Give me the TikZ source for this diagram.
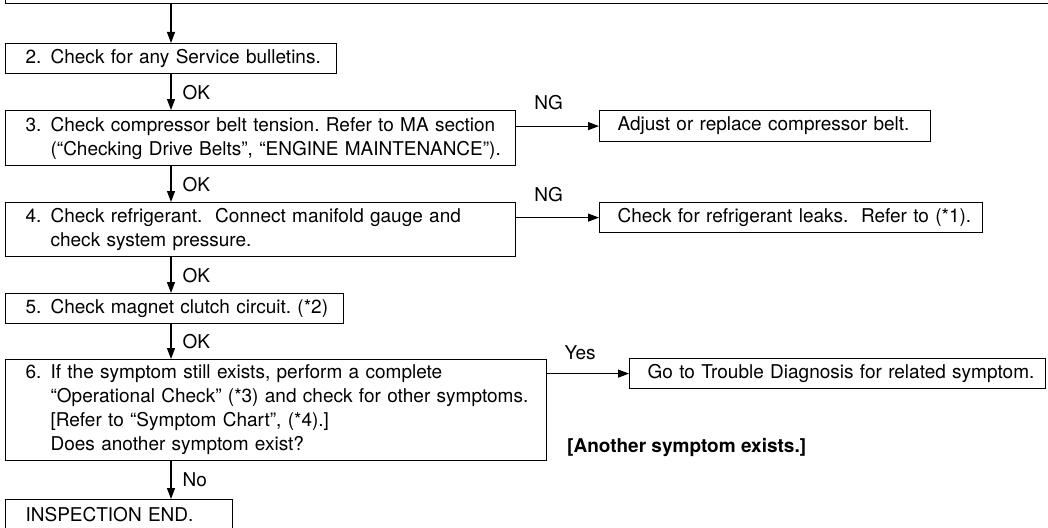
\documentclass[tikz,border=0pt]{standalone}
\usepackage{fontspec}
\setmainfont{TeX Gyre Heros}
\usetikzlibrary{arrows.meta,positioning}
\frenchspacing
\newcommand{\stepno}[1]{\hspace*{20pt}\makebox[25pt][l]{#1}}
\newcommand{\stepcont}{\hspace*{45pt}}
\newcommand{\plainbox}{\hspace*{18pt}}

\begin{document}
\begin{tikzpicture}[x=1pt, y=-1pt,
        box/.style={draw, rectangle, line width=1.2pt, inner xsep=0pt, inner ysep=0pt, align=left, anchor=north west, font=\fontsize{19}{24}\selectfont},
        arr/.style={-{Triangle[length=11pt,width=8pt]}, line width=1.2pt},
        lbl/.style={font=\fontsize{19}{24}\selectfont, inner sep=0pt}]
        \useasboundingbox (0,0) rectangle (1048,527);
        \clip (0,0) rectangle (1048,527);

        \node[box, anchor=south west, minimum width=1100pt, minimum height=40pt] (step1) at (5,4.5) {};
        \node[box, text width=331pt, minimum height=30pt] (step2) at (5,43) {\stepno{2.}Check for any Service bulletins.};
        \node[box, text width=510pt, minimum height=55pt] (step3) at (5,110) {\stepno{3.}Check compressor belt tension. Refer to MA section\\\stepcont(“Checking Drive Belts”, “ENGINE MAINTENANCE”).};
        \node[box, text width=510pt, minimum height=54pt] (step4) at (5,202) {\stepno{4.}Check refrigerant.\ \ Connect manifold gauge and\\\stepcont check system pressure.};
        \node[box, text width=338pt, minimum height=30pt] (step5) at (5,293) {\stepno{5.}Check magnet clutch circuit. (*2)};
        \node[box, text width=541pt, minimum height=101pt] (step6) at (5,359) {\stepno{6.}If the symptom still exists, perform a complete\\\stepcont“Operational Check” (*3) and check for other symptoms.\\\stepcont[Refer to “Symptom Chart”, (*4).]\\\stepcont Does another symptom exist?};
        \node[box, text width=227pt, minimum height=30pt] (done) at (5,499) {\hspace*{20pt}INSPECTION END.};

        \node[box, text width=331pt, minimum height=31pt] (belt) at (599,110) {\plainbox Adjust or replace compressor belt.};
        \node[box, text width=383pt, minimum height=30pt] (leaks) at (599,202) {\plainbox Check for refrigerant leaks.\ \ Refer to (*1).};
        \node[box, text width=416pt, minimum height=30pt] (trouble) at (629,358) {\plainbox Go to Trouble Diagnosis for related symptom.};
        \node[lbl, anchor=west, font=\fontsize{19}{24}\selectfont\bfseries] (another) at (567,447) {[Another symptom exists.]};

        \coordinate (spine) at (171,0);
        \draw[arr] (step1.south -| spine) -- (step2.north -| spine);
        \draw[arr] (step2.south -| spine) -- node[lbl, right=11pt] {OK} (step3.north -| spine);
        \draw[arr] (step3.south -| spine) -- node[lbl, right=11pt] {OK} (step4.north -| spine);
        \draw[arr] (step4.south -| spine) -- node[lbl, right=11pt] {OK} (step5.north -| spine);
        \draw[arr] (step5.south -| spine) -- node[lbl, right=11pt] {OK} (step6.north -| spine);
        \draw[arr] (step6.south -| spine) -- node[lbl, right=11pt] {No} (done.north -| spine);

        \draw[arr] (belt.west -| step3.east) -- node[lbl, above=16pt, xshift=-9pt] {NG} (belt.west);
        \draw[arr] (leaks.west -| step4.east) -- node[lbl, above=15pt, xshift=-9pt] {NG} (leaks.west);
        \draw[arr] (trouble.west -| step6.east) -- node[lbl, above=13pt, xshift=-8pt] {Yes} (trouble.west);
    \end{tikzpicture}
\end{document}
